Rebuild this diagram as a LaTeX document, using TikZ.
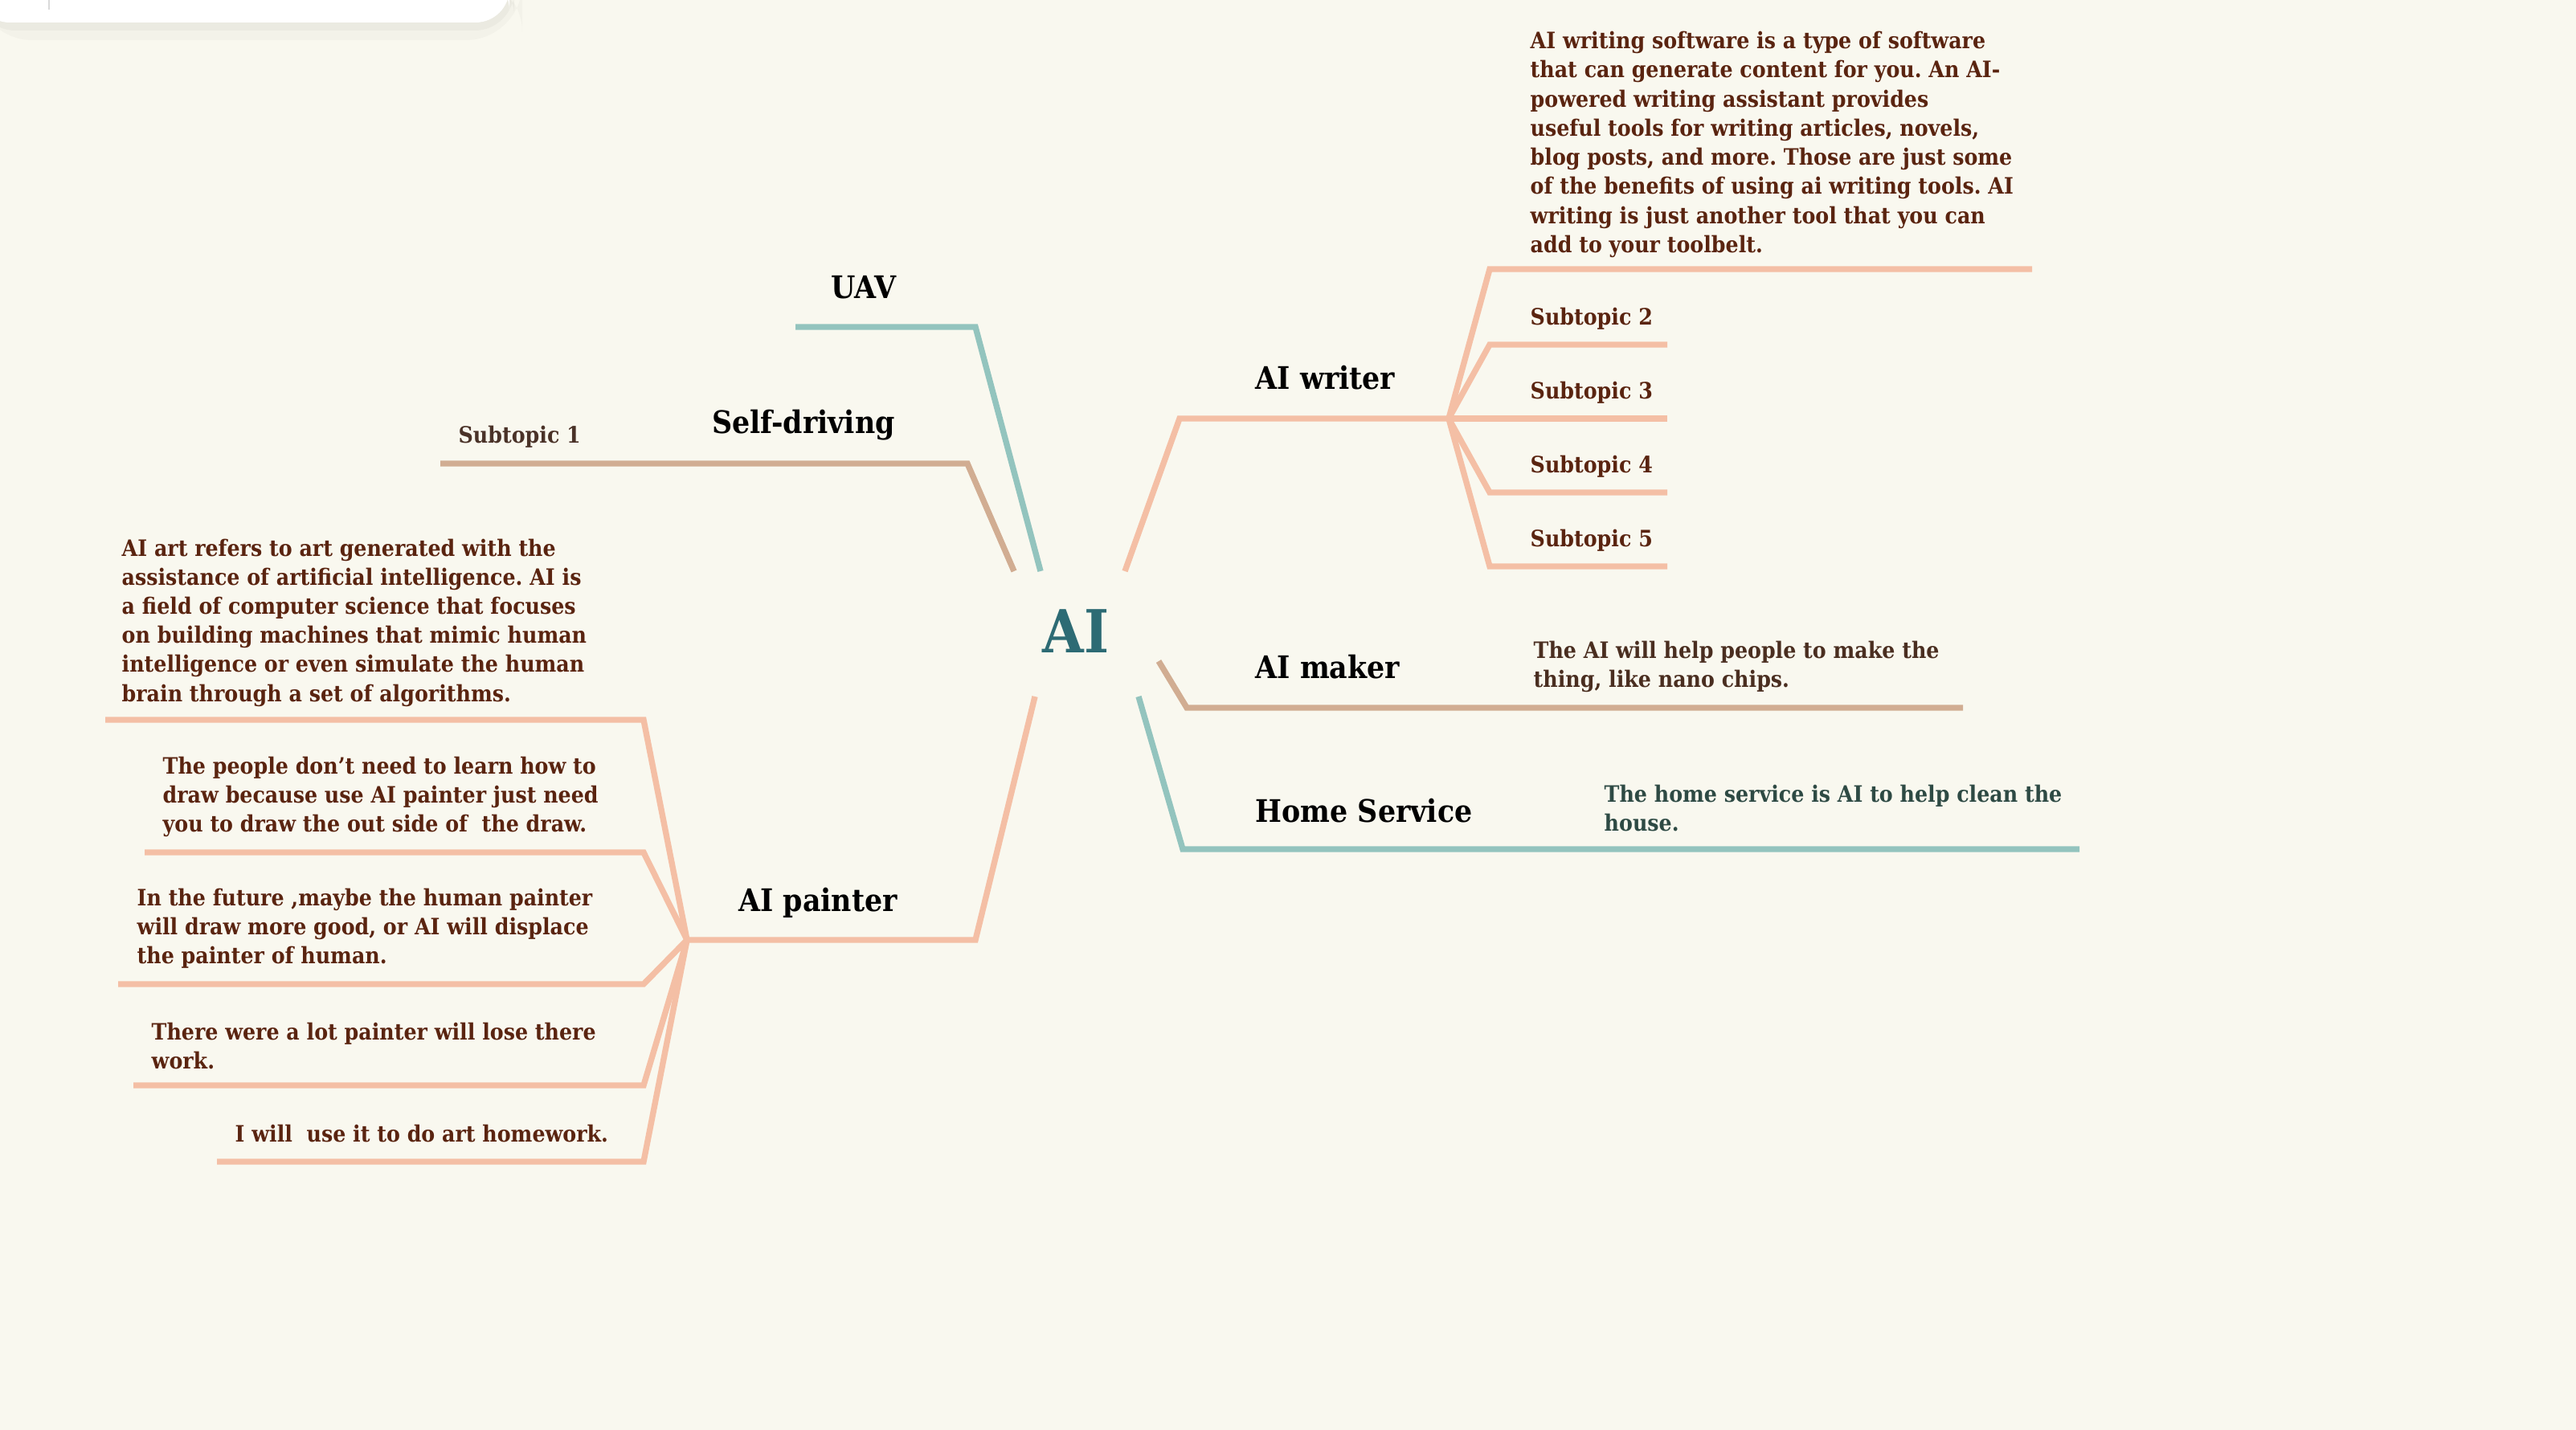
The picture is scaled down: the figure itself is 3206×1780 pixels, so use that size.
\documentclass[tikz,border=0pt]{standalone}
\usepackage{fontspec}
\setmainfont{DejaVu Serif}[FakeStretch=0.9]
\frenchspacing

\definecolor{paper}{HTML}{F9F8EF}
\definecolor{lineteal}{HTML}{93C4BE}
\definecolor{linetan}{HTML}{D1AD92}
\definecolor{linepeach}{HTML}{F4BFA5}
\definecolor{aiteal}{HTML}{2D6B74}
\definecolor{notebrown}{HTML}{5A2410}
\definecolor{makerbrown}{HTML}{4A2E20}
\definecolor{homegreen}{HTML}{2E4A44}
\definecolor{subgray}{HTML}{4A3228}

\begin{document}
\begin{tikzpicture}[x=0.01cm, y=-0.01cm]
    \useasboundingbox (0,0) rectangle (3206,1780);
    \fill[paper] (0,0) rectangle (3206,1780);
    \fill[black, opacity=0.025, rounded corners=20] (-30,-30) rectangle (650,50);
    \fill[black, opacity=0.03, rounded corners=14] (-30,-30) rectangle (640,38);
    \fill[white, rounded corners=12] (-30,-30) rectangle (634,28);
    \draw[black!15, line width=0.6pt] (61,0) -- (61,12);

    \tikzset{Central/.style={font=\bfseries\fontsize{21}{24}\selectfont, text=aiteal, inner sep=0pt}}
    \tikzset{Topic/.style={font=\bfseries\fontsize{11}{13}\selectfont, inner sep=0pt}}
    \tikzset{Note/.style={font=\bfseries\fontsize{8}{10.3}\selectfont, text=notebrown, align=left, anchor=west, inner sep=0pt}}
    \tikzset{Sub/.style={Note, font=\bfseries\fontsize{8}{10}\selectfont}}

    \node[Central] (ai) at (1339,786) {AI};

    \node[Topic] (uav) at (1075,358) {UAV};
    \node[Topic] (selfdriving) at (1000,529) {Self-driving};
    \node[Sub, text=subgray] (sub1) at (570,544) {Subtopic 1};
    \node[Topic] (painter) at (1018,1124) {AI painter};
    \node[Topic, anchor=west] (writer) at (1562,470) {AI writer};
    \node[Topic, anchor=west] (maker) at (1562,830) {AI maker};
    \node[Topic, anchor=west] (home) at (1562,1009) {Home Service};

    \node[Note] (artnote) at (151,775) {AI art refers to art generated with the\\
        assistance of artificial intelligence. AI is\\
        a field of computer science that focuses\\
        on building machines that mimic human\\
        intelligence or even simulate the human\\
        brain through a set of algorithms.};
    \node[Note] (drawnote) at (202,992) {The people don't need to learn how to\\
        draw because use AI painter just need\\
        you to draw the out side of\ \ the draw.};
    \node[Note] (futurenote) at (170,1156) {In the future ,maybe the human painter\\
        will draw more good, or AI will displace\\
        the painter of human.};
    \node[Note] (losenote) at (188,1302) {There were a lot painter will lose there\\
        work.};
    \node[Note] (homeworknote) at (292,1411) {I will\ \ use it to do art homework.};

    \node[Note] (writernote) at (1904,180) {AI writing software is a type of software\\
        that can generate content for you. An AI-\\
        powered writing assistant provides\\
        useful tools for writing articles, novels,\\
        blog posts, and more. Those are just some\\
        of the benefits of using ai writing tools. AI\\
        writing is just another tool that you can\\
        add to your toolbelt.};
    \node[Sub] (sub2) at (1904,397) {Subtopic 2};
    \node[Sub] (sub3) at (1904,489) {Subtopic 3};
    \node[Sub] (sub4) at (1904,581) {Subtopic 4};
    \node[Sub] (sub5) at (1904,673) {Subtopic 5};

    \node[Note, text=makerbrown] (makernote) at (1908,830) {The AI will help people to make the\\
        thing, like nano chips.};
    \node[Note, text=homegreen] (homenote) at (1996,1006) {The home service is AI to help clean the\\
        house.};

    % branch points
    \coordinate (uav-a) at (1295,711);
    \coordinate (uav-b) at (1214,407);
    \coordinate (uav-c) at (990,407);
    \coordinate (self-a) at (1262,711);
    \coordinate (self-b) at (1204,577);
    \coordinate (self-c) at (548,577);
    \coordinate (paint-a) at (1288,867);
    \coordinate (paint-b) at (1214,1170);
    \coordinate (paint-hub) at (855,1170);
    \coordinate (write-a) at (1400,711);
    \coordinate (write-b) at (1468,521);
    \coordinate (write-hub) at (1803,521);
    \coordinate (make-a) at (1442,823);
    \coordinate (make-b) at (1477,881);
    \coordinate (make-c) at (2443,881);
    \coordinate (home-a) at (1417,867);
    \coordinate (home-b) at (1472,1057);
    \coordinate (home-c) at (2588,1057);

    \tikzset{Branch/.style={line width=2.1pt, draw=lineteal}}
    \draw[Branch] (uav-a) -- (uav-b) -- (uav-c);
    \draw[Branch] (home-a) -- (home-b) -- (home-c);

    \tikzset{Branch/.style={line width=2.1pt, draw=linetan}}
    \draw[Branch] (self-a) -- (self-b) -- (self-c);
    \draw[Branch] (make-a) -- (make-b) -- (make-c);

    \tikzset{Branch/.style={line width=2.1pt, draw=linepeach}}
    \draw[Branch] (paint-a) -- (paint-b) -- (paint-hub);
    \draw[Branch] (paint-hub) -- (801,896) -- (131,896);
    \draw[Branch] (paint-hub) -- (801,1061) -- (180,1061);
    \draw[Branch] (paint-hub) -- (801,1225) -- (147,1225);
    \draw[Branch] (paint-hub) -- (801,1351) -- (166,1351);
    \draw[Branch] (paint-hub) -- (801,1446) -- (270,1446);

    \draw[Branch] (write-a) -- (write-b) -- (write-hub);
    \draw[Branch] (write-hub) -- (1854,335) -- (2529,335);
    \draw[Branch] (write-hub) -- (1854,429) -- (2075,429);
    \draw[Branch] (write-hub) -- (2075,521);
    \draw[Branch] (write-hub) -- (1854,613) -- (2075,613);
    \draw[Branch] (write-hub) -- (1854,705) -- (2075,705);
\end{tikzpicture}
\end{document}
